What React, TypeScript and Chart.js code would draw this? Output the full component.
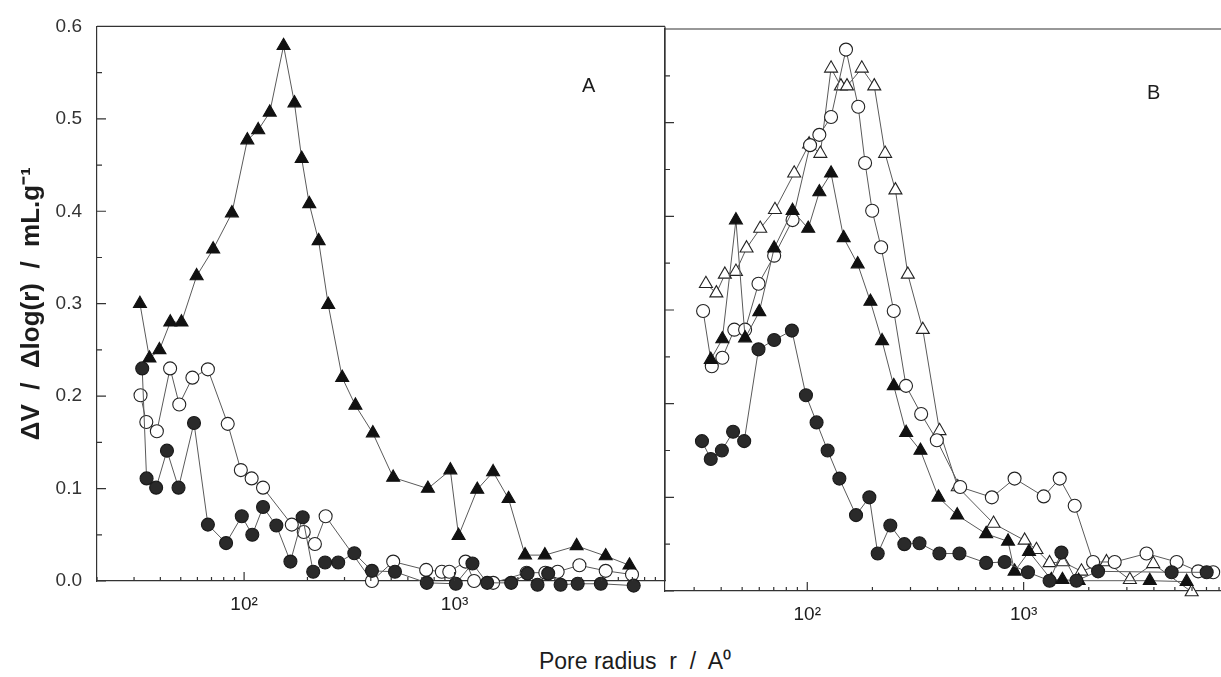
import React, { useEffect, useRef } from 'react';
import { Chart, registerables } from 'chart.js';

Chart.register(...registerables);

const FONT = "'Liberation Sans', Arial, Helvetica, sans-serif";

// ---------- Panel A (x: pore radius in Å, y: ΔV/Δlog(r)) ----------
const aFilledCircleR = [32.8, 34.4, 38.2, 43.0, 48.8, 57.8, 67.3, 82.1, 97.5, 109.4, 123, 142.3, 166, 189.8, 213, 242.5, 280, 334, 405, 521, 738, 1014, 1216, 1429, 1858, 2223, 2478, 2786, 3191, 3846, 4955, 7100];
const aFilledCircleV = [0.230, 0.111, 0.101, 0.141, 0.101, 0.171, 0.061, 0.041, 0.070, 0.050, 0.080, 0.060, 0.021, 0.069, 0.010, 0.020, 0.020, 0.030, 0.011, 0.010, -0.002, -0.003, 0.019, -0.002, -0.002, 0.008, -0.004, 0.008, -0.004, -0.003, -0.003, -0.005];

const aFilledTriR = [32, 35.5, 39.6, 44.6, 50.4, 59.5, 71.3, 87.5, 103.6, 116.7, 132.4, 154, 173.5, 187.8, 204, 226, 251, 292.5, 338, 409, 511, 747, 955, 1045, 1282, 1525, 1806, 2162, 2686, 3802, 5226, 6780];
const aFilledTriV = [0.300, 0.241, 0.250, 0.280, 0.280, 0.330, 0.359, 0.398, 0.477, 0.488, 0.507, 0.579, 0.517, 0.457, 0.408, 0.368, 0.299, 0.220, 0.190, 0.160, 0.112, 0.100, 0.120, 0.049, 0.099, 0.118, 0.089, 0.028, 0.028, 0.038, 0.027, 0.017];

const aOpenCircleR = [32.2, 34.3, 38.5, 44.5, 49.2, 56.8, 67.3, 83.6, 96.5, 108.6, 123, 168.5, 192, 217, 244, 405, 511, 733, 870, 944, 1128, 1238, 1526, 2200, 2700, 3090, 3920, 5226, 6970];
const aOpenCircleV = [0.201, 0.172, 0.162, 0.230, 0.191, 0.220, 0.229, 0.170, 0.120, 0.111, 0.101, 0.061, 0.053, 0.040, 0.070, 0.000, 0.021, 0.012, 0.010, 0.010, 0.021, 0.000, -0.002, 0.009, 0.009, 0.010, 0.017, 0.011, 0.007];

// ---------- Panel B ----------
const bFilledCircleR = [32.6, 35.8, 40.3, 45.4, 51.1, 59.5, 70.3, 84.9, 98.6, 110.4, 124.2, 140.7, 168, 193.6, 211.6, 242, 281, 330, 408, 505, 671, 817, 1047, 1318, 1495, 1754, 2208, 4830, 7015];
const bFilledCircleV = [0.160, 0.141, 0.150, 0.170, 0.160, 0.258, 0.268, 0.278, 0.209, 0.180, 0.150, 0.120, 0.081, 0.100, 0.040, 0.070, 0.050, 0.051, 0.040, 0.040, 0.030, 0.031, 0.020, 0.011, 0.041, 0.011, 0.021, 0.020, 0.020];

const bFilledTriR = [35.8, 40.5, 46.8, 51.6, 60, 70.3, 85.5, 101, 113.7, 128.8, 147.3, 171, 195.8, 221.7, 251, 286.4, 333.5, 404, 493, 671, 847, 908, 1059, 1343, 1511, 1796, 3830, 5666];
const bFilledTriV = [0.247, 0.269, 0.396, 0.270, 0.298, 0.366, 0.406, 0.387, 0.426, 0.446, 0.377, 0.349, 0.309, 0.267, 0.219, 0.169, 0.150, 0.100, 0.081, 0.061, 0.053, 0.021, 0.042, 0.012, 0.012, 0.011, 0.011, 0.010];

const bOpenCircleR = [33, 36.2, 40.5, 46, 51.6, 59.5, 70.3, 85.5, 103, 113.7, 128.8, 151, 172, 185, 199.5, 219.4, 251, 286, 336, 397, 509, 713, 908, 1238, 1468, 1722, 2094, 2636, 3698, 5096, 6410, 7516];
const bOpenCircleV = [0.299, 0.240, 0.249, 0.279, 0.279, 0.328, 0.358, 0.396, 0.476, 0.487, 0.506, 0.578, 0.517, 0.457, 0.406, 0.367, 0.299, 0.219, 0.189, 0.161, 0.111, 0.100, 0.120, 0.101, 0.120, 0.091, 0.031, 0.031, 0.040, 0.031, 0.021, 0.020];

const bOpenTriR = [34, 38, 41.6, 46.8, 52.4, 60.6, 70.9, 87, 102, 114.9, 128.8, 143, 152.6, 178.6, 204, 229, 255.5, 291.6, 342, 408.5, 496, 726, 1011, 1146, 1318, 1521, 1850, 2415, 3097, 3972, 5980];
const bOpenTriV = [0.328, 0.318, 0.338, 0.341, 0.366, 0.387, 0.407, 0.446, 0.477, 0.467, 0.558, 0.539, 0.539, 0.558, 0.539, 0.467, 0.428, 0.338, 0.279, 0.171, 0.111, 0.072, 0.054, 0.044, 0.030, 0.031, 0.021, 0.031, 0.012, 0.029, -0.001];

// ---------- Axes / labels ----------
const xTickValues = [100, 1000];
const xTickLabels = ['10\u00B2', '10\u00B3'];
const yTickValues = [0, 0.1, 0.2, 0.3, 0.4, 0.5, 0.6];
const yTitle = '\u0394V  /  \u0394log(r)  /  mL.g\u207B\u00B9';
const xTitle = 'Pore radius  r  /  A\u2070';

const LINE = '#5a5a5a';
const INK = '#1c1c1c';

const styles: Record<string, any> = {
  filledCircle: { pointStyle: 'circle', pointRadius: 6.5, pointBackgroundColor: '#2a2a2a', pointBorderColor: '#1a1a1a' },
  filledTri: { pointStyle: 'triangle', pointRadius: 7.5, pointBackgroundColor: '#111', pointBorderColor: '#111' },
  openCircle: { pointStyle: 'circle', pointRadius: 6.5, pointBackgroundColor: '#fff', pointBorderColor: '#222' },
  openTri: { pointStyle: 'triangle', pointRadius: 7.5, pointBackgroundColor: '#fff', pointBorderColor: '#222' },
};

function ds(label: string, xs: number[], ys: number[], kind: string) {
  return {
    label,
    data: xs.map((x, i) => ({ x, y: ys[i] })),
    borderColor: LINE,
    borderWidth: 1,
    pointBorderWidth: 1.1,
    pointHoverRadius: 6,
    clip: false as any,
    ...styles[kind],
  };
}

const framePlugin = {
  id: 'frame',
  afterDraw(chart: any, _args: any, opts: any) {
    const { ctx, chartArea: ca, scales } = chart;
    const xs = scales.x;
    const ys = scales.y;
    ctx.save();
    ctx.strokeStyle = '#333';
    ctx.lineWidth = 1.2;
    ctx.beginPath();
    ctx.moveTo(ca.left, ca.top);
    ctx.lineTo(ca.right, ca.top);
    if (opts && opts.right) {
      ctx.moveTo(ca.right, ca.top);
      ctx.lineTo(ca.right, ca.bottom);
    }
    for (let k = 0; k <= 12; k++) {
      const y = ys.getPixelForValue(k * 0.05);
      const len = k % 2 === 0 ? 9 : 5;
      ctx.moveTo(ca.left, y);
      ctx.lineTo(ca.left + len, y);
    }
    for (let d = 10; d <= 10000; d *= 10) {
      for (let m = 1; m <= 9; m++) {
        const v = m * d;
        if (v < xs.min || v > xs.max) continue;
        const x = xs.getPixelForValue(v);
        const len = m === 1 ? 9 : 4;
        ctx.moveTo(x, ca.bottom);
        ctx.lineTo(x, ca.bottom - len);
      }
    }
    ctx.stroke();
    ctx.restore();
  },
};

function makeOptions(p: { xMin: number; yWidth: number; xHeight: number; top: number; right: number; showY: boolean; rightLine: boolean }) {
  return {
    responsive: false,
    animation: false as const,
    layout: { padding: { top: p.top, right: p.right, left: 0, bottom: 0 } },
    plugins: { legend: { display: false }, tooltip: { enabled: false }, frame: { right: p.rightLine } },
    scales: {
      x: {
        type: 'logarithmic' as const,
        min: p.xMin,
        max: 10000,
        afterBuildTicks: (s: any) => { s.ticks = xTickValues.map((v) => ({ value: v })); },
        afterFit: (s: any) => { s.height = p.xHeight; },
        grid: { display: false, drawTicks: false },
        border: { display: true, color: '#333', width: 1.2 },
        ticks: {
          autoSkip: false,
          maxRotation: 0,
          padding: 12,
          color: INK,
          font: { family: FONT, size: 19 },
          callback: (v: any) => { const i = xTickValues.indexOf(Number(v)); return i >= 0 ? xTickLabels[i] : ''; },
        },
      },
      y: {
        type: 'linear' as const,
        min: 0,
        max: 0.6,
        afterBuildTicks: (s: any) => { s.ticks = yTickValues.map((v) => ({ value: v })); },
        afterFit: (s: any) => { s.width = p.yWidth; },
        grid: { display: false, drawTicks: false },
        border: { display: true, color: '#333', width: 1.2 },
        ticks: {
          display: p.showY,
          padding: 15,
          color: '#333',
          font: { family: FONT, size: 19 },
          callback: (v: any) => Number(v).toFixed(1),
        },
        title: {
          display: p.showY,
          text: yTitle,
          color: INK,
          font: { family: FONT, size: 26, weight: 'bold' as const },
          padding: { top: 16, bottom: 0 },
        },
      },
    },
  };
}

function Panel(props: { datasets: any[]; opts: any; width: number; height: number; left: number }) {
  const ref = useRef<HTMLCanvasElement | null>(null);
  useEffect(() => {
    if (!ref.current) return;
    const chart = new Chart(ref.current, {
      type: 'line',
      data: { datasets: props.datasets },
      options: props.opts,
      plugins: [framePlugin],
    } as any);
    return () => chart.destroy();
  }, []);
  return (
    <canvas
      ref={ref}
      width={props.width}
      height={props.height}
      style={{ position: 'absolute', left: props.left, top: 0, width: props.width, height: props.height }}
    />
  );
}

export default function App() {
  const aSets = [
    ds('A filled circles', aFilledCircleR, aFilledCircleV, 'filledCircle'),
    ds('A filled triangles', aFilledTriR, aFilledTriV, 'filledTri'),
    ds('A open circles', aOpenCircleR, aOpenCircleV, 'openCircle'),
  ];
  const bSets = [
    ds('B filled circles', bFilledCircleR, bFilledCircleV, 'filledCircle'),
    ds('B filled triangles', bFilledTriR, bFilledTriV, 'filledTri'),
    ds('B open circles', bOpenCircleR, bOpenCircleV, 'openCircle'),
    ds('B open triangles', bOpenTriR, bOpenTriV, 'openTri'),
  ];
  const aOpts = makeOptions({ xMin: 20, yWidth: 97, xHeight: 59, top: 18, right: 15, showY: true, rightLine: true });
  const bOpts = makeOptions({ xMin: 22, yWidth: 45, xHeight: 49, top: 29, right: 20, showY: false, rightLine: false });
  return (
    <div style={{ position: 'fixed', left: 0, top: 0, width: 1221, height: 677, overflow: 'hidden', background: '#fff', fontFamily: FONT }}>
      <Panel datasets={aSets} opts={aOpts} width={680} height={640} left={0} />
      <Panel datasets={bSets} opts={bOpts} width={640} height={640} left={620} />
      <div style={{ position: 'absolute', left: 582, top: 74, fontSize: 20, color: INK }}>A</div>
      <div style={{ position: 'absolute', left: 1147, top: 81, fontSize: 20, color: INK }}>B</div>
      <div style={{ position: 'absolute', left: 635, top: 644, transform: 'translateX(-50%)', fontSize: 23, color: INK, whiteSpace: 'pre' }}>{xTitle}</div>
    </div>
  );
}
